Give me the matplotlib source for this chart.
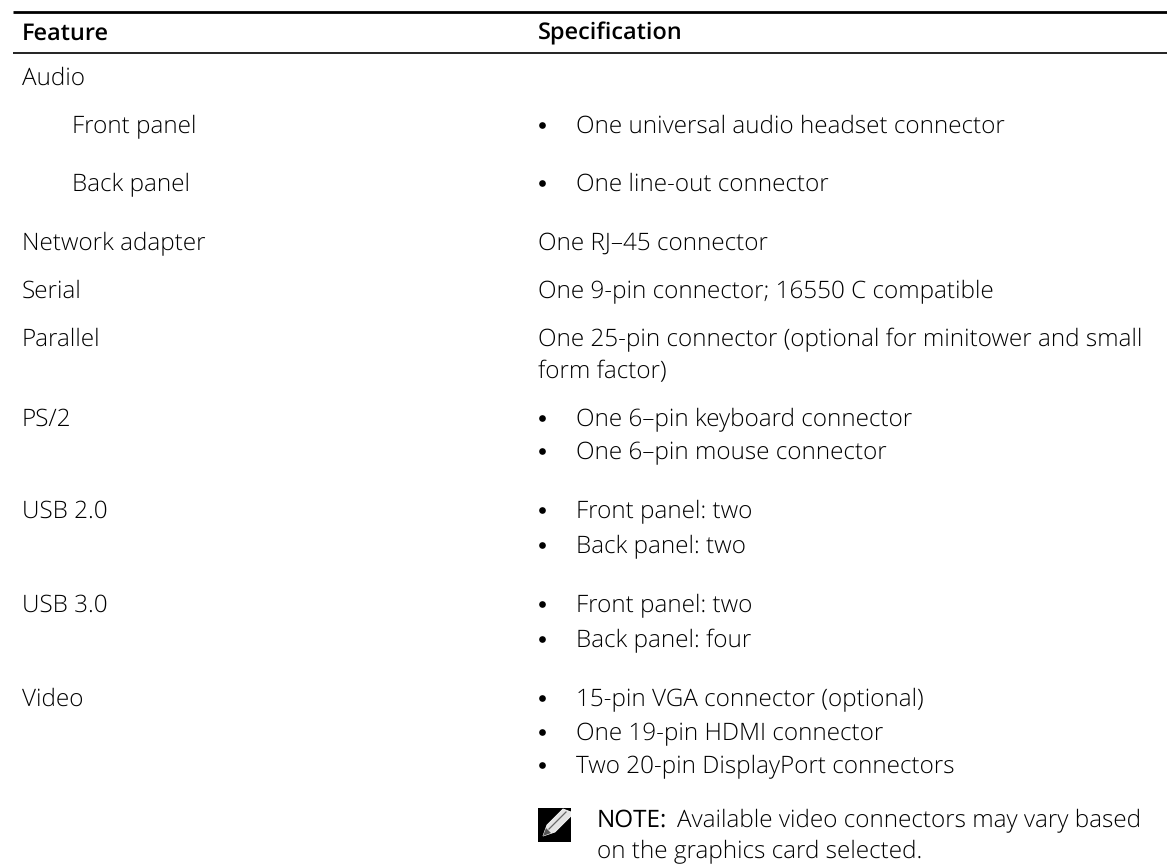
import matplotlib
matplotlib.use("Agg")
from matplotlib import pyplot as plt
from matplotlib.patches import Polygon, Rectangle

# Contenido de la tabla
encabezados = ["Feature", "Specification"]
caracteristicas = ["Audio", "Front panel", "Back panel", "Network adapter", "Serial", "Parallel",
                   "PS/2", "USB 2.0", "USB 3.0", "Video"]
texto_plano = ["One RJ\u201345 connector", "One 9-pin connector; 16550 C compatible",
               "One 25-pin connector (optional for minitower and small", "form factor)"]
con_vineta = ["One universal audio headset connector", "One line-out connector",
              "One 6\u2013pin keyboard connector", "One 6\u2013pin mouse connector",
              "Front panel: two", "Back panel: two", "Front panel: two", "Back panel: four",
              "15-pin VGA connector (optional)", "One 19-pin HDMI connector",
              "Two 20-pin DisplayPort connectors"]
nota_titulo = "NOTE:"
nota_1 = "Available video connectors may vary based"
nota_2 = "on the graphics card selected."

# Lineas base en pixeles de la imagen
y_caracteristicas = [85, 133, 191, 250, 298, 346, 426, 518, 612, 706]
x_caracteristicas = [22, 72, 72, 22, 22, 22, 22, 22, 22, 22]
y_plano = [250, 298, 346, 378]
y_vineta = [133, 191, 426, 459, 518, 553, 612, 647, 706, 740, 773]

plt.rcParams["font.family"] = "Open Sans"
plt.rcParams["text.hinting"] = "none"
TAM = 17.5
TAM_CABECERA = 16.9
COLOR = "black"

fig = plt.figure(figsize=(11.67, 8.64), dpi=100)
ax = fig.add_axes([0, 0, 1, 1])
ax.set_xlim(0, 1167)
ax.set_ylim(864, 0)
ax.axis("off")

# Lineas de la cabecera
ax.plot([13, 1167], [11.5, 11.5], color="black", lw=2.0, solid_capstyle="butt")
ax.plot([13, 1167], [53, 53], color="#222222", lw=1.4, solid_capstyle="butt")

ax.text(22, 39.5, encabezados[0], fontsize=TAM_CABECERA, fontweight="semibold", color="black", va="baseline")
ax.text(538, 39.5, encabezados[1], fontsize=TAM_CABECERA, fontweight="semibold", color="black", va="baseline")

for nombre, x, y in zip(caracteristicas, x_caracteristicas, y_caracteristicas):
    ax.text(x, y, nombre, fontsize=TAM, fontweight="light", color=COLOR, va="baseline")

for linea, y in zip(texto_plano, y_plano):
    ax.text(538, y, linea, fontsize=TAM, fontweight="light", color=COLOR, va="baseline")

for linea, y in zip(con_vineta, y_vineta):
    ax.plot([541.5], [y - 8], marker="o", ms=4.8, mew=0, color="black")
    ax.text(576, y, linea, fontsize=TAM, fontweight="light", color=COLOR, va="baseline")

# Icono de la nota: cuadro negro con un lapiz blanco
ax.add_patch(Rectangle((538, 808), 33, 34, facecolor="black", edgecolor="none", zorder=3))
ax.add_patch(Polygon([(543, 836), (547, 825), (563, 809), (571, 812), (571, 816), (555, 832)],
                     closed=True, facecolor="#e4e4e4", edgecolor="white", lw=0.6, zorder=4))
ax.plot([549, 566], [829, 812], color="#666666", lw=0.9, zorder=5)
ax.add_patch(Polygon([(543, 836), (546, 828), (551, 833)], closed=True, facecolor="#555555",
                     edgecolor="none", zorder=5))

ax.text(597, 827, nota_titulo, fontsize=TAM, fontweight="normal", color="black", va="baseline")
ax.text(677, 827, nota_1, fontsize=TAM, fontweight="light", color=COLOR, va="baseline")
ax.text(597, 858, nota_2, fontsize=TAM, fontweight="light", color=COLOR, va="baseline")

fig.savefig("out.png", dpi=100)
